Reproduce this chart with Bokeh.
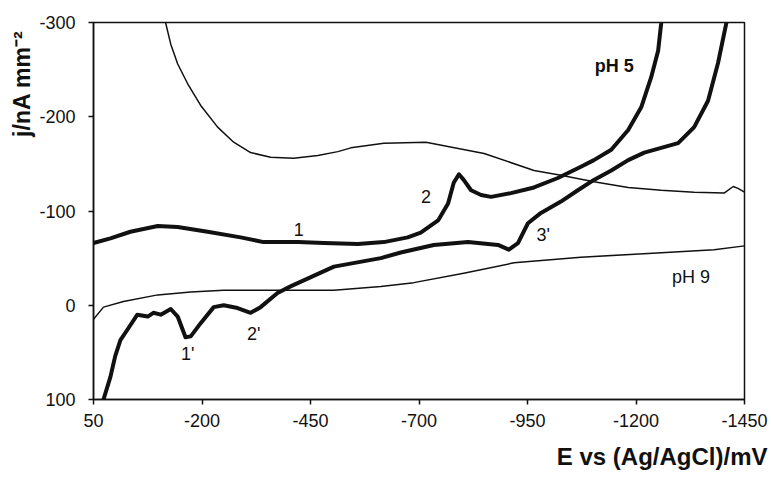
from bokeh.plotting import figure
from bokeh.models import Range1d, FixedTicker, Title, ColumnDataSource
from bokeh.embed import file_html
from bokeh.resources import INLINE
from bokeh.core.properties import value

# ---- data ----
x_ticks = [50, -200, -450, -700, -950, -1200, -1450]
x_tick_labels = ["50", "-200", "-450", "-700", "-950", "-1200", "-1450"]
y_ticks = [100, 0, -100, -200, -300]
y_tick_labels = ["100", "0", "-100", "-200", "-300"]

x_title = "E vs (Ag/AgCl)/mV"
y_title = "j/nA mm\u207b\u00b2"

# thin upper curve
thin_a_E = [-110, -116, -128, -144, -167, -197, -236, -273, -312, -358, -411, -467,
            -513, -543, -619, -716, -850, -965, -1027, -1103, -1182, -1258, -1334,
            -1403, -1424, -1435, -1450]
thin_a_j = [-330, -300, -277, -256, -235, -212, -189, -173, -162, -157, -156, -159,
            -163, -167, -172, -173, -161, -143, -138, -131, -125, -122, -120,
            -119, -126, -124, -120]

# thin lower curve (pH 9)
thin_b_E = [50, 27, -19, -98, -174, -250, -365, -504, -612, -688, -803, -919,
            -1073, -1228, -1380, -1450]
thin_b_j = [15, 2, -4, -11, -14, -16, -16, -16, -20, -24, -34, -45,
            -51, -55, -59, -63]

# thick curve with peaks 1 and 2 (pH 5)
thick_a_E = [50, 11, -35, -98, -144, -213, -289, -342, -421, -481, -559, -619, -674,
             -704, -744, -767, -780, -792, -803, -820, -843, -866, -912, -965,
             -1020, -1073, -1103, -1143, -1182, -1212, -1235, -1251, -1258, -1262]
thick_a_j = [-66, -71, -78, -84, -83, -78, -72, -67, -67, -66, -65, -67, -72,
             -77, -90, -108, -130, -139, -133, -122, -117, -115, -119, -125,
             -135, -147, -154, -165, -186, -210, -242, -270, -299, -320]

# thick curve with peaks 1', 2', 3'
thick_b_E = [27, 11, 0, -12, -28, -51, -75, -88, -105, -128, -144, -162, -174,
             -197, -227, -250, -282, -312, -335, -374, -404, -504, -612, -658,
             -734, -813, -882, -907, -928, -951, -981, -1027, -1066, -1103, -1143,
             -1182, -1219, -1258, -1297, -1334, -1366, -1389, -1408, -1413]
thick_b_j = [100, 76, 54, 37, 26, 10, 12, 8, 10, 4, 12, 34, 33,
             19, 2, 0, 3, 8, 2, -13, -20, -41, -50, -56,
             -64, -67, -64, -59, -66, -87, -98, -110, -122, -133, -143,
             -154, -162, -167, -172, -189, -217, -257, -299, -320]

note_text = ["pH 5", "pH 9", "1", "2", "3'", "1'", "2'"]
note_E = [-1150, -1327, -423, -716, -986, -167, -319]
note_j = [-254, -30, -80, -115, -75, 52, 31]
note_style = ["bold", "normal", "normal", "normal", "normal", "normal", "normal"]

FONT = "Liberation Sans"
INK = "#111111"

p = figure(width=771, height=480, output_backend="svg", toolbar_location=None,
           x_range=Range1d(50, -1450), y_range=Range1d(100, -300),
           min_border_left=93, min_border_right=27, min_border_top=22,
           min_border_bottom=80)
p.grid.visible = False
p.outline_line_color = INK
p.outline_line_width = 1.5
p.background_fill_color = "white"
p.border_fill_color = "white"

for ax in (p.xaxis[0], p.yaxis[0]):
    ax.axis_line_color = INK
    ax.axis_line_width = 1.5
    ax.major_tick_line_color = INK
    ax.major_tick_line_width = 1.5
    ax.major_tick_out = 5
    ax.major_tick_in = 0
    ax.minor_tick_line_color = None
    ax.major_label_text_font = FONT
    ax.major_label_text_font_size = "18px"
    ax.major_label_text_color = INK

p.xaxis[0].ticker = FixedTicker(ticks=x_ticks)
p.xaxis[0].major_label_overrides = {t: l for t, l in zip(x_ticks, x_tick_labels)}
p.xaxis[0].major_label_standoff = 9
p.yaxis[0].ticker = FixedTicker(ticks=y_ticks)
p.yaxis[0].major_label_overrides = {t: l for t, l in zip(y_ticks, y_tick_labels)}
p.yaxis[0].major_label_standoff = 13

p.line(thin_a_E, thin_a_j, line_color=INK, line_width=1.5, line_join="round")
p.line(thin_b_E, thin_b_j, line_color=INK, line_width=1.5, line_join="round")
p.line(thick_a_E, thick_a_j, line_color=INK, line_width=4, line_join="round")
p.line(thick_b_E, thick_b_j, line_color=INK, line_width=4, line_join="round")

src = ColumnDataSource(dict(x=note_E, y=note_j, t=note_text, st=note_style))
p.text(x="x", y="y", text="t", source=src, text_font=value(FONT),
       text_font_size="18px", text_font_style="st", text_color=INK,
       text_align="center", text_baseline="middle")

p.add_layout(Title(text=y_title, align="right", text_font=FONT,
                   text_font_size="23px", text_font_style="bold", text_color=INK,
                   offset=8, standoff=4), "left")
p.add_layout(Title(text=x_title, align="right", text_font=FONT,
                   text_font_size="24px", text_font_style="bold", text_color=INK,
                   offset=-23, standoff=22), "below")

open("out.html", "w").write(file_html(p, INLINE))
